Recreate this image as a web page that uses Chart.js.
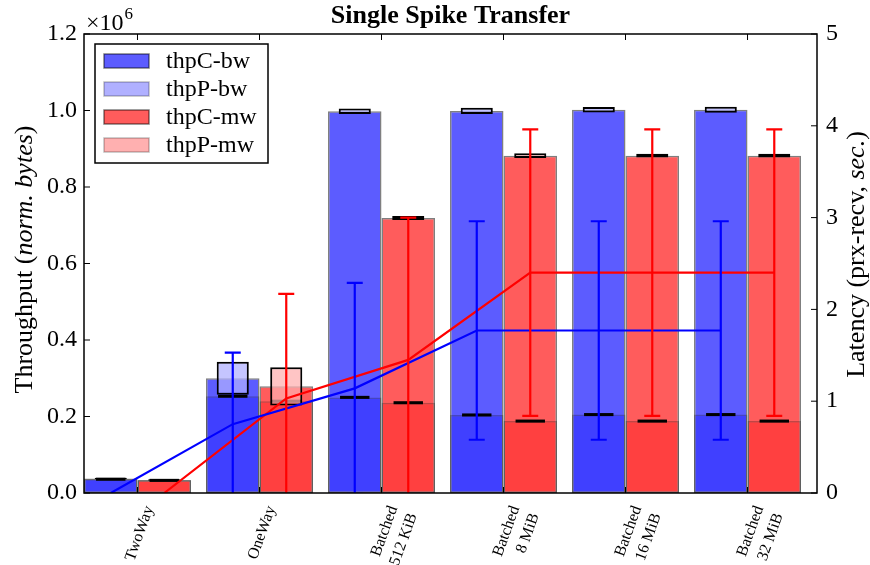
<!DOCTYPE html>
<html>
<head>
<meta charset="utf-8">
<script src="https://cdn.jsdelivr.net/npm/chart.js@4.4.1/dist/chart.umd.min.js"></script>
<style>
html, body { margin: 0; padding: 0; background: #fff; }
</style>
</head>
<body>
<canvas id="chart" width="870" height="565"></canvas>
<script>
// categories (multi-line tick labels)
const categories = [['TwoWay'], ['OneWay'], ['Batched', '512 KiB'], ['Batched', '8 MiB'], ['Batched', '16 MiB'], ['Batched', '32 MiB']];

// throughput, normalised bytes
const thpCbw = [0.038e6, 0.300e6, 0.998e6, 0.999e6, 1.002e6, 1.002e6];
const thpPbw = [0.036e6, 0.253e6, 0.250e6, 0.204e6, 0.205e6, 0.205e6];
const thpCmw = [0.034e6, 0.279e6, 0.719e6, 0.882e6, 0.882e6, 0.882e6];
const thpPmw = [0.033e6, 0.240e6, 0.236e6, 0.188e6, 0.188e6, 0.188e6];

// spread of the throughput boxes (+/-)
const thpCbwErr = [0.002e6, 0.043e6, 0.007e6, 0.008e6, 0.007e6, 0.008e6];
const thpCmwErr = [0.002e6, 0.050e6, 0.005e6, 0.006e6, 0.005e6, 0.005e6];
const thpPbwErr = [0.004e6, 0.004e6, 0.004e6, 0.004e6, 0.004e6, 0.004e6];
const thpPmwErr = [0.004e6, 0.004e6, 0.004e6, 0.004e6, 0.004e6, 0.004e6];

// latency (prx-recv, sec.)
const latBw = [0.0, 0.75, 1.14, 1.77, 1.77, 1.77];
const latBwErr = [0.0, 0.78, 1.15, 1.19, 1.19, 1.19];
const latMw = [0.0, 1.03, 1.45, 2.40, 2.40, 2.40];
const latMwErr = [0.0, 1.14, 1.55, 1.56, 1.56, 1.56];

// throughput ticks / latency ticks
const yTicks = [0, 0.2e6, 0.4e6, 0.6e6, 0.8e6, 1.0e6, 1.2e6];
const y2Ticks = [0, 1, 2, 3, 4, 5];

const PAIR = 0.877;          // share of one category taken by the two bars
const SHIFT = PAIR / 4;      // centre of one bar from the category centre
const SERIF = "'Liberation Serif', 'DejaVu Serif', serif";

Chart.defaults.font.family = SERIF;
Chart.defaults.color = '#000';

const pts = (vals) => vals.map((v, i) => ({ x: i, y: v }));
const boxes = (vals, err) => vals.map((v, i) => ({ x: i, y: [v - err[i], v + err[i]] }));

const barBase = { type: 'bar', categoryPercentage: PAIR, borderSkipped: false, grouped: true };

const datasets = [
  { ...barBase, label: 'thpC-bw', data: pts(thpCbw), stack: 'bw', order: 3, barPercentage: 1,
    backgroundColor: 'rgba(0,0,255,0.64)', borderColor: 'rgba(0,0,0,0.5)', borderWidth: 1.5 },
  { ...barBase, label: 'thpP-bw', data: pts(thpPbw), stack: 'bw', order: 2, barPercentage: 1,
    backgroundColor: 'rgba(0,0,255,0.31)', borderColor: 'rgba(0,0,0,0.25)', borderWidth: 1.5 },
  { ...barBase, label: 'thpC-mw', data: pts(thpCmw), stack: 'mw', order: 3, barPercentage: 1,
    backgroundColor: 'rgba(255,0,0,0.64)', borderColor: 'rgba(0,0,0,0.5)', borderWidth: 1.5 },
  { ...barBase, label: 'thpP-mw', data: pts(thpPmw), stack: 'mw', order: 2, barPercentage: 1,
    backgroundColor: 'rgba(255,0,0,0.31)', borderColor: 'rgba(0,0,0,0.25)', borderWidth: 1.5 },
  // boxes
  { ...barBase, label: 'box-bw', data: boxes(thpCbw, thpCbwErr), stack: 'bw', order: 1, barPercentage: 0.6,
    backgroundColor: 'rgba(175,175,255,0.72)', borderColor: '#000', borderWidth: 2 },
  { ...barBase, label: 'box-mw', data: boxes(thpCmw, thpCmwErr), stack: 'mw', order: 1, barPercentage: 0.6,
    backgroundColor: 'rgba(255,175,175,0.72)', borderColor: '#000', borderWidth: 2 },
  { ...barBase, label: 'mark-bw', data: boxes(thpPbw, thpPbwErr), stack: 'bw', order: 1, barPercentage: 0.55,
    backgroundColor: '#000', borderWidth: 0 },
  { ...barBase, label: 'mark-mw', data: boxes(thpPmw, thpPmwErr), stack: 'mw', order: 1, barPercentage: 0.55,
    backgroundColor: '#000', borderWidth: 0 },
  // latency lines
  { type: 'line', label: 'lat-bw', data: latBw.map((v, i) => ({ x: i - SHIFT, y: v })), yAxisID: 'y2', order: 0,
    borderColor: '#0000ff', borderWidth: 2.2, pointRadius: 0, tension: 0, fill: false },
  { type: 'line', label: 'lat-mw', data: latMw.map((v, i) => ({ x: i + SHIFT, y: v })), yAxisID: 'y2', order: 0,
    borderColor: '#ff0000', borderWidth: 2.2, pointRadius: 0, tension: 0, fill: false }
];

function drawParts(ctx, parts, size) {
  // parts: [text, italic]; drawn centred at the current origin
  let total = 0;
  parts.forEach(p => { ctx.font = (p[1] ? 'italic ' : '') + size + 'px ' + SERIF; total += ctx.measureText(p[0]).width; });
  let x = -total / 2;
  parts.forEach(p => {
    ctx.font = (p[1] ? 'italic ' : '') + size + 'px ' + SERIF;
    ctx.fillText(p[0], x, 0);
    x += ctx.measureText(p[0]).width;
  });
}

// frame, inward ticks, error bars, axis titles and the legend
const decorations = {
  id: 'decorations',
  afterDatasetsDraw(chart) {
    const { ctx, chartArea: a, scales } = chart;
    const y2 = scales.y2;
    ctx.save();
    ctx.beginPath();
    ctx.rect(a.left, a.top, a.right - a.left, a.bottom - a.top);
    ctx.clip();
    ctx.lineWidth = 2.2;
    [[latBw, latBwErr, -SHIFT, '#0000ff'], [latMw, latMwErr, SHIFT, '#ff0000']].forEach(([vals, errs, off, col]) => {
      ctx.strokeStyle = col;
      vals.forEach((v, i) => {
        if (!errs[i]) return;
        const x = scales.x.getPixelForValue(i + off);
        const lo = y2.getPixelForValue(v - errs[i]);
        const hi = y2.getPixelForValue(v + errs[i]);
        ctx.beginPath();
        ctx.moveTo(x, lo); ctx.lineTo(x, hi);
        ctx.moveTo(x - 8, lo); ctx.lineTo(x + 8, lo);
        ctx.moveTo(x - 8, hi); ctx.lineTo(x + 8, hi);
        ctx.stroke();
      });
    });
    ctx.restore();
  },
  afterDraw(chart) {
    const { ctx, chartArea: a, scales } = chart;
    ctx.save();
    ctx.strokeStyle = '#000';
    ctx.lineWidth = 1.5;
    ctx.strokeRect(a.left, a.top, a.right - a.left, a.bottom - a.top);
    ctx.lineWidth = 1;
    ctx.beginPath();
    scales.x.ticks.forEach(t => {
      const x = scales.x.getPixelForValue(t.value);
      ctx.moveTo(x, a.top); ctx.lineTo(x, a.top + 6);
      ctx.moveTo(x, a.bottom); ctx.lineTo(x, a.bottom - 6);
    });
    scales.y.ticks.forEach(t => {
      const y = scales.y.getPixelForValue(t.value);
      ctx.moveTo(a.left, y); ctx.lineTo(a.left + 6, y);
    });
    scales.y2.ticks.forEach(t => {
      const y = scales.y2.getPixelForValue(t.value);
      ctx.moveTo(a.right, y); ctx.lineTo(a.right - 6, y);
    });
    ctx.stroke();

    // axis titles
    ctx.fillStyle = '#000';
    ctx.textBaseline = 'middle';
    ctx.save();
    ctx.translate(25, (a.top + a.bottom) / 2 - 4);
    ctx.rotate(-Math.PI / 2);
    drawParts(ctx, [['Throughput (', false], ['norm. bytes', true], [')', false]], 26);
    ctx.restore();
    ctx.save();
    ctx.translate(857, (a.top + a.bottom) / 2 - 9);
    ctx.rotate(-Math.PI / 2);
    drawParts(ctx, [['Latency (prx-recv, ', false], ['sec.', true], [')', false]], 26);
    ctx.restore();

    // x10^6 multiplier
    ctx.textBaseline = 'alphabetic';
    ctx.textAlign = 'left';
    ctx.font = '24px ' + SERIF;
    ctx.fillText('\u00d710', a.left + 2, a.top - 4);
    const w = ctx.measureText('\u00d710').width;
    ctx.font = '17px ' + SERIF;
    ctx.fillText('6', a.left + 3 + w, a.top - 15);

    // legend
    const lx = a.left + 11, ly = a.top + 10, lw = 173, lh = 119;
    ctx.fillStyle = '#fff';
    ctx.fillRect(lx, ly, lw, lh);
    ctx.lineWidth = 1.5;
    ctx.strokeStyle = '#000';
    ctx.strokeRect(lx, ly, lw, lh);
    ctx.font = '24px ' + SERIF;
    ctx.textBaseline = 'middle';
    chart.data.datasets.slice(0, 4).forEach((ds, i) => {
      const cy = ly + 17 + i * 28;
      ctx.fillStyle = ds.backgroundColor;
      ctx.fillRect(lx + 9, cy - 7, 45, 14);
      ctx.strokeStyle = ds.borderColor;
      ctx.lineWidth = 1.5;
      ctx.strokeRect(lx + 9, cy - 7, 45, 14);
      ctx.fillStyle = '#000';
      ctx.fillText(ds.label, lx + 71, cy + 1);
    });
    ctx.restore();
  }
};

new Chart(document.getElementById('chart'), {
  type: 'bar',
  data: { datasets },
  options: {
    responsive: false,
    animation: false,
    events: [],
    layout: { padding: 0 },
    plugins: {
      legend: { display: false },
      tooltip: { enabled: false },
      title: {
        display: true,
        text: 'Single Spike Transfer',
        fullSize: false,
        color: '#000',
        font: { size: 26, weight: 'bold', family: SERIF },
        padding: { top: 1, bottom: 1.8 }
      }
    },
    scales: {
      x: {
        type: 'linear',
        stacked: true,
        offset: false,
        min: -PAIR / 2,
        max: 6.008 - PAIR / 2,
        grid: { display: false },
        border: { display: false },
        afterBuildTicks: s => { s.ticks = categories.map((c, i) => ({ value: i })); },
        afterFit: s => { s.height = 72; },
        ticks: {
          autoSkip: false,
          minRotation: 70,
          maxRotation: 70,
          padding: 2,
          labelOffset: 12,
          font: { size: 16, lineHeight: 1.3 },
          callback: v => categories[v]
        }
      },
      y: {
        position: 'left',
        stacked: false,
        min: 0,
        max: 1.2e6,
        grid: { display: false, drawTicks: false },
        border: { display: false },
        afterBuildTicks: s => { s.ticks = yTicks.map(v => ({ value: v })); },
        afterFit: s => { s.width = 84; },
        ticks: { padding: 7, font: { size: 24 }, callback: v => (v / 1e6).toFixed(1) }
      },
      y2: {
        position: 'right',
        min: 0,
        max: 5,
        grid: { display: false, drawTicks: false },
        border: { display: false },
        afterBuildTicks: s => { s.ticks = y2Ticks.map(v => ({ value: v })); },
        afterFit: s => { s.width = 53; },
        ticks: { padding: 9, font: { size: 24 }, callback: v => String(v) }
      }
    }
  },
  plugins: [decorations]
});
</script>
</body>
</html>
